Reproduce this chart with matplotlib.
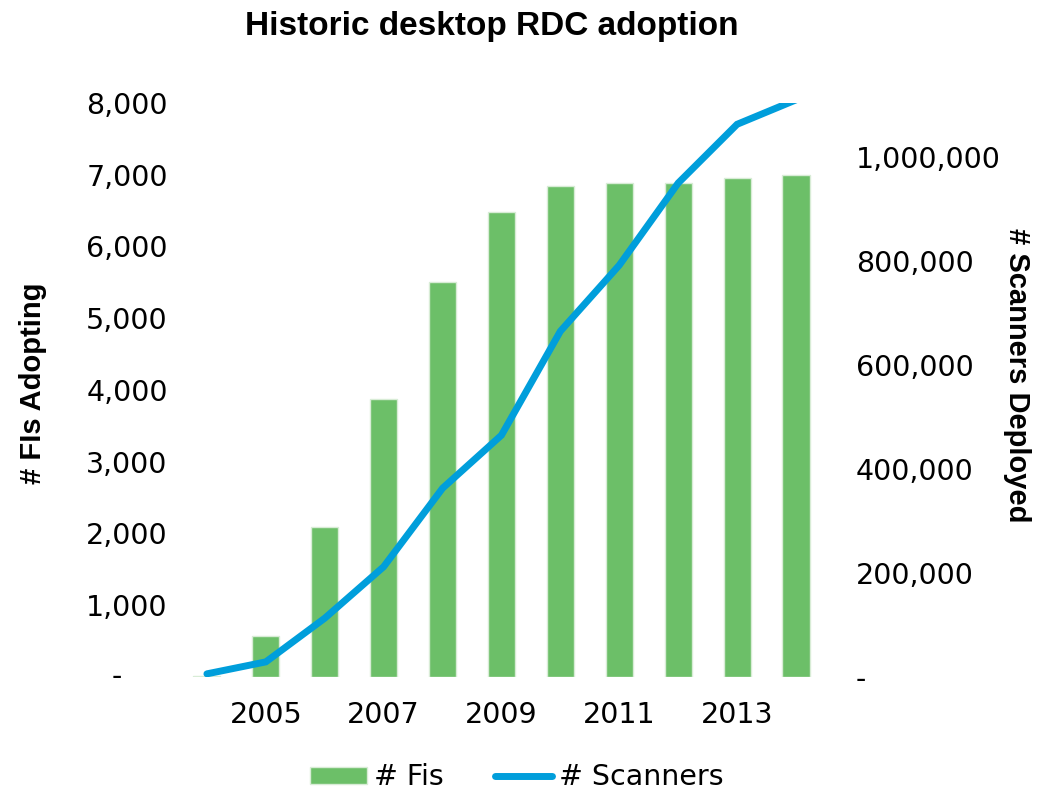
import matplotlib
matplotlib.use("Agg")
import matplotlib.pyplot as plt
from matplotlib.ticker import FuncFormatter

years = [2004, 2005, 2006, 2007, 2008, 2009, 2010, 2011, 2012, 2013, 2014]
fis = [20, 570, 2090, 3875, 5505, 6480, 6845, 6885, 6885, 6955, 6995]
scanners = [6000, 29000, 113000, 212000, 363000, 465000, 665000, 792000, 950000, 1063000, 1110000]
year_labels = ["", "2005", "", "2007", "", "2009", "", "2011", "", "2013", ""]

GREEN = "#6cbf68"
BLUE = "#009edb"

plt.rcParams["font.family"] = ["DejaVu Sans"]


def fmt_left(v, pos):
    # zero gets drawn as a dash separately (excel accounting style)
    if v == 0:
        return ""
    return "{:,.0f}".format(v)


def fmt_right(v, pos):
    if v == 0:
        return "-"
    return "{:,.0f}".format(v)


def main():
    fig = plt.figure(figsize=(10.47, 7.94), dpi=100)
    ax = fig.add_axes([0.1695, 0.1474, 0.6189, 0.7229])
    ax2 = ax.twinx()

    x = list(range(len(years)))
    bars = ax.bar(x, fis, width=0.46, color=GREEN, edgecolor="#d8ecd6", linewidth=1, label="# Fis")
    line, = ax2.plot(x, scanners, color=BLUE, lw=5, solid_capstyle="round",
                     solid_joinstyle="miter", label="# Scanners")

    ax.set_xlim(-0.5, 10.5)
    ax.set_ylim(0, 8000)
    ax2.set_ylim(0, 1104000)
    ax.set_yticks(range(0, 8001, 1000))
    ax2.set_yticks(range(0, 1000001, 200000))
    ax.yaxis.set_major_formatter(FuncFormatter(fmt_left))
    ax2.yaxis.set_major_formatter(FuncFormatter(fmt_right))
    ax.set_xticks(x)
    ax.set_xticklabels(year_labels)

    for a in (ax, ax2):
        for s in a.spines.values():
            s.set_visible(False)
        a.tick_params(length=0, labelsize=20.5, colors="black")
    ax.tick_params(axis="y", pad=7)
    ax2.tick_params(axis="y", pad=22)
    ax.tick_params(axis="x", pad=17)
    ax.annotate("-", xy=(0, 0), xycoords=("axes fraction", "data"),
                xytext=(-40, 0), textcoords="offset points",
                ha="right", va="center", fontsize=20.5)

    fig.text(33 / 1047, 1 - 383 / 794, "# FIs Adopting", rotation=90, ha="center", va="center",
             fontsize=21, fontweight="bold", family="Liberation Sans")
    fig.text(1017 / 1047, 1 - 375 / 794, "# Scanners Deployed", rotation=-90, ha="center", va="center",
             fontsize=21, fontweight="bold", family="Liberation Sans")
    fig.text(492 / 1047, 1 - 27 / 794, "Historic desktop RDC adoption", ha="center", va="center",
             fontsize=24, fontweight="bold", family="Liberation Sans")

    fig.legend([bars, line], ["# Fis", "# Scanners"], loc="center",
               ncol=2, frameon=False, fontsize=20.5, bbox_to_anchor=(0.494, 0.021),
               handlelength=2.0, handleheight=0.55, handletextpad=0.25, columnspacing=1.8)

    fig.savefig("out.png", dpi=100)


if __name__ == "__main__":
    main()
